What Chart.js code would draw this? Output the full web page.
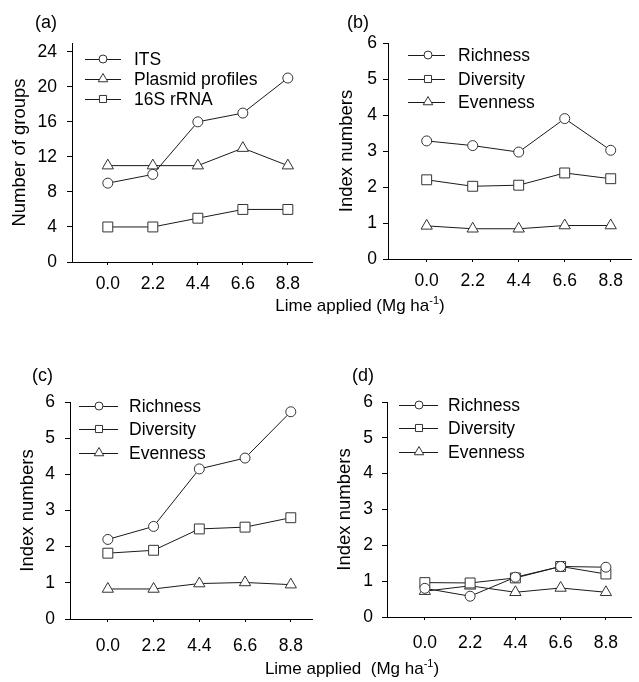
<!DOCTYPE html>
<html>
<head>
<meta charset="utf-8">
<script src="https://cdn.jsdelivr.net/npm/chart.js@4"></script>
<style>
  html, body { margin:0; padding:0; background:#fff; }
  #wrap { position:relative; width:639px; height:682px; background:#fff; overflow:hidden;
          font-family:'Liberation Sans', Arial, sans-serif; color:#000; }
  .pnl { position:absolute; }
  .lbl { position:absolute; font-size:18px; line-height:20px; white-space:nowrap; }
  .xt { position:absolute; font-size:17px; line-height:20px; white-space:nowrap; text-align:center; }
  .xt sup { font-size:11px; line-height:0; vertical-align:7px; }
</style>
</head>
<body>
<div id="wrap">
  <canvas id="ca" class="pnl" width="320" height="300" style="left:0;top:0"></canvas>
  <canvas id="cb" class="pnl" width="319" height="300" style="left:320px;top:0"></canvas>
  <canvas id="cc" class="pnl" width="320" height="330" style="left:0;top:330px"></canvas>
  <canvas id="cd" class="pnl" width="319" height="330" style="left:320px;top:330px"></canvas>
  <div class="lbl" style="left:35px;top:12px">(a)</div>
  <div class="lbl" style="left:347px;top:12px">(b)</div>
  <div class="lbl" style="left:32px;top:365px">(c)</div>
  <div class="lbl" style="left:352px;top:365px">(d)</div>
  <div class="xt" style="left:210px;width:300px;top:296px">Lime applied (Mg ha<sup>-1</sup>)</div>
  <div class="xt" style="left:202px;width:300px;top:659px">Lime applied&nbsp; (Mg ha<sup>-1</sup>)</div>
</div>
<script>
// ---- data ----
const limeRates = [0.0, 2.2, 4.4, 6.6, 8.8];
const groupTicks = [0, 4, 8, 12, 16, 20, 24];
const indexTicks = [0, 1, 2, 3, 4, 5, 6];

const aITS     = [9, 10, 16, 17, 21];
const aPlasmid = [11, 11, 11, 13, 11];
const a16S     = [4, 4, 5, 6, 6];

const bRichness  = [3.28, 3.15, 2.97, 3.90, 3.02];
const bDiversity = [2.20, 2.02, 2.05, 2.39, 2.23];
const bEvenness  = [0.92, 0.84, 0.84, 0.93, 0.93];

const cRichness  = [2.20, 2.56, 4.15, 4.45, 5.73];
const cDiversity = [1.82, 1.90, 2.49, 2.54, 2.80];
const cEvenness  = [0.83, 0.83, 0.98, 1.01, 0.95];

const dRichness  = [0.80, 0.58, 1.11, 1.41, 1.39];
const dDiversity = [0.96, 0.95, 1.09, 1.41, 1.20];
const dEvenness  = [0.72, 0.87, 0.69, 0.81, 0.69];

// ---- helpers ----
const FONT = "'Liberation Sans', Arial, sans-serif";
Chart.defaults.font.family = FONT;
Chart.defaults.font.size = 17.5;
Chart.defaults.color = '#000';

const STYLE = {
  circle:   { pointStyle: 'circle',   pointRadius: 5,   legendR: 4 },
  rect:     { pointStyle: 'rect',     pointRadius: 7,   legendR: 5 },
  triangle: { pointStyle: 'triangle', pointRadius: 6.5, legendR: 5.5 }
};

function series(label, values, kind) {
  const s = STYLE[kind];
  return {
    label: label,
    data: values.map((v, i) => ({ x: limeRates[i], y: v })),
    borderColor: '#1a1a1a',
    borderWidth: 1,
    pointStyle: s.pointStyle,
    pointRadius: s.pointRadius,
    pointHoverRadius: s.pointRadius,
    pointBackgroundColor: '#fff',
    pointBorderColor: '#333',
    pointBorderWidth: 1,
    legendR: s.legendR,
    tension: 0,
    fill: false
  };
}

function drawMarker(ctx, style, x, y, r) {
  ctx.beginPath();
  if (style === 'circle') {
    ctx.arc(x, y, r, 0, Math.PI * 2);
  } else if (style === 'rect') {
    const s = r * Math.SQRT1_2;
    ctx.rect(x - s, y - s, 2 * s, 2 * s);
  } else {
    ctx.moveTo(x, y - r);
    ctx.lineTo(x + r * Math.sin(2 * Math.PI / 3), y - r * Math.cos(2 * Math.PI / 3));
    ctx.lineTo(x + r * Math.sin(4 * Math.PI / 3), y - r * Math.cos(4 * Math.PI / 3));
    ctx.closePath();
  }
  ctx.fillStyle = '#fff';
  ctx.fill();
  ctx.strokeStyle = '#333';
  ctx.lineWidth = 1;
  ctx.stroke();
}

const lineLegend = {
  id: 'lineLegend',
  afterDraw(chart, args, opts) {
    const ctx = chart.ctx;
    ctx.save();
    chart.data.datasets.forEach((ds, i) => {
      const y = opts.rows[i];
      ctx.beginPath();
      ctx.moveTo(opts.x0, y + 0.5);
      ctx.lineTo(opts.x1, y + 0.5);
      ctx.strokeStyle = '#1a1a1a';
      ctx.lineWidth = 1;
      ctx.stroke();
      drawMarker(ctx, ds.pointStyle, opts.xm, y, ds.legendR);
      ctx.fillStyle = '#000';
      ctx.font = '17.5px ' + FONT;
      ctx.textAlign = 'left';
      ctx.textBaseline = 'middle';
      ctx.fillText(ds.label, opts.xt, y + 1);
    });
    ctx.restore();
  }
};

function makeChart(id, datasets, cfg) {
  return new Chart(document.getElementById(id), {
    type: 'line',
    data: { datasets: datasets },
    plugins: [lineLegend],
    options: {
      responsive: false,
      animation: false,
      devicePixelRatio: 1,
      layout: { padding: { top: cfg.top, left: 0, right: 0, bottom: 0 } },
      plugins: {
        legend: { display: false },
        tooltip: { enabled: false },
        lineLegend: cfg.legend
      },
      scales: {
        x: {
          type: 'linear',
          min: cfg.xmin, max: cfg.xmax,
          afterBuildTicks: s => { s.ticks = limeRates.map(v => ({ value: v })); },
          afterFit: s => { s.height = cfg.xh; },
          ticks: { callback: v => Number(v).toFixed(1), padding: cfg.xpad, maxRotation: 0, autoSkip: false, color: '#000' },
          grid: { drawOnChartArea: false, drawTicks: true, tickLength: 3, color: '#000' },
          border: { display: true, color: '#000', width: 1 }
        },
        y: {
          type: 'linear',
          min: 0, max: cfg.ymax,
          afterBuildTicks: s => { s.ticks = cfg.yticks.map(v => ({ value: v })); },
          afterFit: s => { s.width = cfg.yw; },
          ticks: { padding: cfg.ypad, color: '#000' },
          grid: { drawOnChartArea: false, drawTicks: true, tickLength: 5, color: '#000' },
          border: { display: true, color: '#000', width: 1 },
          title: { display: true, text: cfg.ytitle, padding: { top: cfg.ytp, bottom: 0 }, font: { size: 18.5 }, color: '#000' }
        }
      }
    }
  });
}

makeChart('ca', [
  series('ITS', aITS, 'circle'),
  series('Plasmid profiles', aPlasmid, 'triangle'),
  series('16S rRNA', a16S, 'rect')
], { top: 43, xh: 38, xpad: 9, yw: 72, ymax: 25, yticks: groupTicks, ypad: 10, ytp: 9,
     xmin: -1.75, xmax: 9.98, ytitle: 'Number of groups',
     legend: { x0: 85, x1: 121, xm: 103, xt: 134, rows: [59, 79, 99] } });

makeChart('cb', [
  series('Richness', bRichness, 'circle'),
  series('Diversity', bDiversity, 'rect'),
  series('Evenness', bEvenness, 'triangle')
], { top: 43, xh: 41, xpad: 9, yw: 68, ymax: 6, yticks: indexTicks, ypad: 6, ytp: 16,
     xmin: -1.85, xmax: 9.77, ytitle: 'Index numbers',
     legend: { x0: 88, x1: 125, xm: 108, xt: 138, rows: [55, 79, 102] } });

makeChart('cc', [
  series('Richness', cRichness, 'circle'),
  series('Diversity', cDiversity, 'rect'),
  series('Evenness', cEvenness, 'triangle')
], { top: 72, xh: 41, xpad: 14, yw: 70, ymax: 6, yticks: indexTicks, ypad: 10, ytp: 17,
     xmin: -1.82, xmax: 9.82, ytitle: 'Index numbers',
     legend: { x0: 79, x1: 118, xm: 99, xt: 129, rows: [76, 99, 123] } });

makeChart('cd', [
  series('Richness', dRichness, 'circle'),
  series('Diversity', dDiversity, 'rect'),
  series('Evenness', dEvenness, 'triangle')
], { top: 72, xh: 43, xpad: 13, yw: 67, ymax: 6, yticks: indexTicks, ypad: 9, ytp: 14,
     xmin: -1.84, xmax: 10.02, ytitle: 'Index numbers',
     legend: { x0: 79, x1: 118, xm: 99, xt: 128, rows: [75, 98, 122] } });
</script>
</body>
</html>
